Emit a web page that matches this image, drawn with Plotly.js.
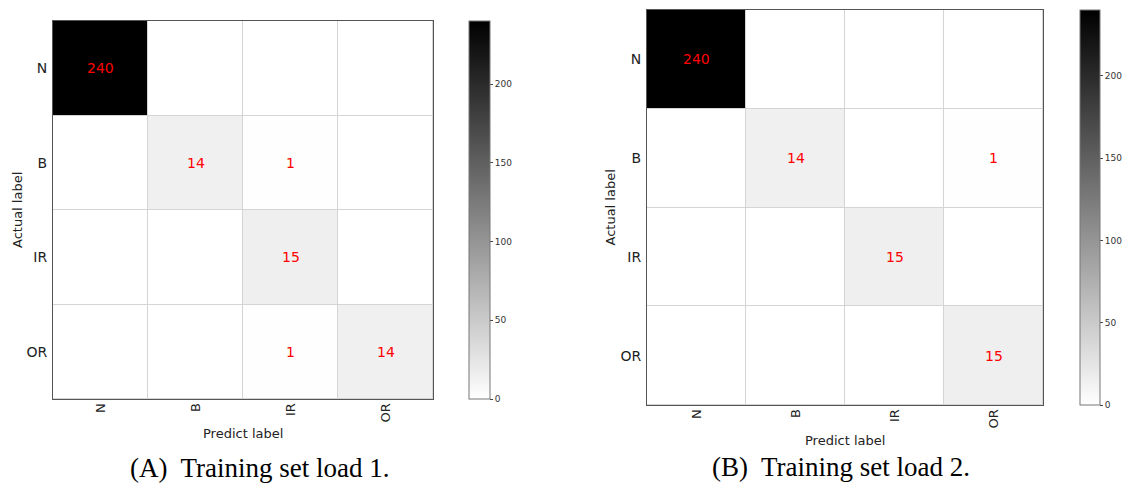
<!DOCTYPE html>
<html>
<head>
<meta charset="utf-8">
<script src="https://cdn.plot.ly/plotly-3.0.1.min.js"></script>
<style>html,body{margin:0;padding:0;background:#fff;}#chart{width:1128px;height:483px;}</style>
</head>
<body>
<div id="chart"></div>
<script>
// ---- data ----
const predictLabels = ["N", "B", "IR", "OR"];
const actualLabels = ["N", "B", "IR", "OR"];
const load1Matrix = [
  [240, 0, 0, 0],
  [0, 14, 1, 0],
  [0, 0, 15, 0],
  [0, 0, 1, 14]
];
const load2Matrix = [
  [240, 0, 0, 0],
  [0, 14, 0, 1],
  [0, 0, 15, 0],
  [0, 0, 0, 15]
];
const colorbarTicks = [0, 50, 100, 150, 200];
const captions = ["(A)  Training set load 1.", "(B)  Training set load 2."];
const xTitle = "Predict label";
const yTitle = "Actual label";

// ---- layout helpers ----
const W = 1128, H = 483;
const px = v => v / W;
const py = v => 1 - v / H;
const idx = predictLabels.map((_, i) => i);

const panels = [
  {m: load1Matrix, x0: 53, x1: 433, y0: 21, y1: 399, cbx: 469, cbw: 21, xa: "x", ya: "y", capX: 260, capY: 468, xtY: 433, ytX: 18},
  {m: load2Matrix, x0: 647, x1: 1043, y0: 10, y1: 405, cbx: 1080, cbw: 20, xa: "x2", ya: "y2", capX: 841, capY: 467, xtY: 440, ytX: 610}
];

const FONT = "DejaVu Sans, sans-serif";
const traces = [];
const annotations = [];
const layout = {
  width: W, height: H,
  margin: {l: 0, r: 0, t: 0, b: 0},
  paper_bgcolor: "#ffffff",
  plot_bgcolor: "#d4d4d4",
  showlegend: false,
  font: {family: FONT, color: "#222"},
  annotations: annotations
};

panels.forEach((p, k) => {
  const sfx = k === 0 ? "" : "2";
  traces.push({
    type: "heatmap",
    z: p.m,
    x: idx,
    y: idx,
    xaxis: p.xa, yaxis: p.ya,
    zmin: 0, zmax: 240,
    colorscale: [[0, "#ffffff"], [1, "#000000"]],
    xgap: 1, ygap: 1,
    hoverinfo: "skip",
    colorbar: {
      x: px(p.cbx), xanchor: "left", xpad: 0, ypad: 0,
      thickness: p.cbw, thicknessmode: "pixels",
      len: p.y1 - p.y0, lenmode: "pixels",
      y: py((p.y0 + p.y1) / 2), yanchor: "middle",
      outlinecolor: "#777", outlinewidth: 1,
      tickvals: colorbarTicks, ticktext: colorbarTicks.map(String),
      ticks: "outside", ticklen: 3, tickcolor: "#444",
      tickfont: {family: FONT, size: 9, color: "#333"}
    }
  });
  layout["xaxis" + sfx] = {
    domain: [px(p.x0), px(p.x1)],
    anchor: p.ya,
    range: [-0.5, 3.5],
    tickvals: idx, ticktext: predictLabels,
    tickangle: -90,
    ticks: "", ticklabelstandoff: -2,
    showgrid: false, zeroline: false,
    showline: true, linecolor: "#555", linewidth: 1, mirror: true,
    tickfont: {family: FONT, size: 13, color: "#222"},
    fixedrange: true
  };
  layout["yaxis" + sfx] = {
    domain: [py(p.y1), py(p.y0)],
    anchor: p.xa,
    range: [3.5, -0.5],
    tickvals: idx, ticktext: actualLabels,
    ticks: "", ticklabelstandoff: 2,
    showgrid: false, zeroline: false,
    showline: true, linecolor: "#555", linewidth: 1, mirror: true,
    tickfont: {family: FONT, size: 14, color: "#222"},
    fixedrange: true
  };
  // cell values
  p.m.forEach((row, r) => row.forEach((v, c) => {
    if (v !== 0) annotations.push({
      xref: p.xa, yref: p.ya, x: c, y: r, text: String(v),
      showarrow: false, font: {family: FONT, size: 14, color: "#ff0000"}
    });
  }));
  // axis titles
  annotations.push({
    xref: "paper", yref: "paper", x: px((p.x0 + p.x1) / 2), y: py(p.xtY),
    xanchor: "center", yanchor: "middle", text: xTitle, showarrow: false,
    font: {family: FONT, size: 13, color: "#222"}
  });
  annotations.push({
    xref: "paper", yref: "paper", x: px(p.ytX), y: py((p.y0 + p.y1) / 2),
    xanchor: "center", yanchor: "middle", text: yTitle, showarrow: false, textangle: -90,
    font: {family: FONT, size: 13, color: "#222"}
  });
  // caption
  annotations.push({
    xref: "paper", yref: "paper", x: px(p.capX), y: py(p.capY),
    xanchor: "center", yanchor: "middle", text: captions[k], showarrow: false,
    font: {family: "Liberation Serif, Times New Roman, serif", size: 27, color: "#000"}
  });
});

Plotly.newPlot("chart", traces, layout, {staticPlot: true, displayModeBar: false});
</script>
</body>
</html>
